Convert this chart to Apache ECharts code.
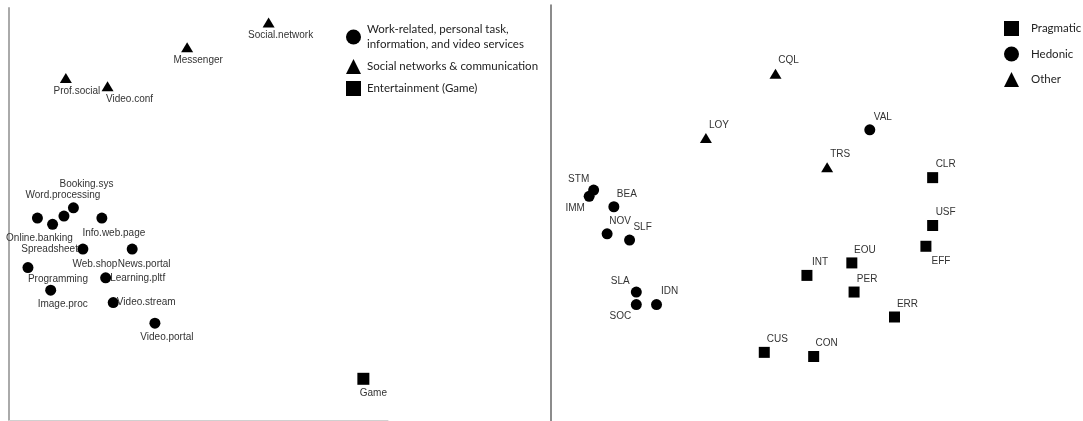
<!DOCTYPE html>
<html>
<head>
<meta charset="utf-8">
<script src="https://cdn.jsdelivr.net/npm/echarts@6/dist/echarts.min.js"></script>
<style>
  html, body { margin: 0; padding: 0; background: #fff; }
  #chart { width: 1083px; height: 421px; }
</style>
</head>
<body>
<div id="chart"></div>
<script>
// left map: online services
const serviceNames = ['Social.network', 'Messenger', 'Prof.social', 'Video.conf', 'Booking.sys',
  'Word.processing', 'Online.banking', 'Spreadsheet', 'Info.web.page', 'Web.shop', 'News.portal',
  'Programming', 'Learning.pltf', 'Image.proc', 'Video.stream', 'Video.portal', 'Game'];
const serviceDim1 = [0.37, -0.06, -0.70, -0.48, -0.66, -0.71, -0.85, -0.77, -0.51, -0.61, -0.35,
  -0.90, -0.49, -0.78, -0.45, -0.23, 0.87];
const serviceDim2 = [0.93, 0.81, 0.66, 0.62, 0.03, -0.01, -0.02, -0.05, -0.02, -0.17, -0.17,
  -0.26, -0.31, -0.37, -0.43, -0.53, -0.80];
const serviceGroup = [1, 1, 1, 1, 0, 0, 0, 0, 0, 0, 0, 0, 0, 0, 0, 0, 2];
const serviceGroupNames = ['Work-related, personal task,\ninformation, and video services',
  'Social networks & communication', 'Entertainment (Game)'];

// right map: UX aspects
const aspectNames = ['CQL', 'LOY', 'TRS', 'VAL', 'STM', 'IMM', 'BEA', 'NOV', 'SLF', 'SLA', 'SOC',
  'IDN', 'INT', 'EOU', 'PER', 'ERR', 'CUS', 'CON', 'CLR', 'USF', 'EFF'];
const aspectDim1 = [0.00, -0.31, 0.23, 0.42, -0.81, -0.83, -0.72, -0.75, -0.65, -0.62, -0.62,
  -0.53, 0.14, 0.34, 0.35, 0.53, -0.05, 0.17, 0.70, 0.70, 0.67];
const aspectDim2 = [0.67, 0.36, 0.22, 0.40, 0.11, 0.08, 0.03, -0.10, -0.13, -0.38, -0.44,
  -0.44, -0.30, -0.24, -0.38, -0.50, -0.67, -0.69, 0.17, -0.06, -0.16];
const aspectGroup = [2, 2, 2, 1, 1, 1, 1, 1, 1, 1, 1, 1, 0, 0, 0, 0, 0, 0, 0, 0, 0];
const aspectGroupNames = ['Pragmatic', 'Hedonic', 'Other'];

// label nudges (px) so the names don't sit on each other
const serviceLabelShift = [[12, 13], [11, 13], [11, 13], [22, 13], [13, -24], [-1, -21], [2, 20],
  [-3, 25], [12, 15], [12, 15], [12, 15], [30, 12], [32, 0], [12, 14], [33, 0], [12, 14], [10, 14]];
const aspectLabelShift = {STM: [-15, -11], IMM: [-14, 12], SLA: [-16, -11], SOC: [-16, 12], EFF: [15, 15]};

const labelFont = {fontFamily: 'Liberation Sans', fontSize: 10, color: '#333'};

function hiddenAxis(gridIndex) {
  return {
    type: 'value', gridIndex: gridIndex, min: -1, max: 1,
    axisLine: {show: false}, axisTick: {show: false}, axisLabel: {show: false}, splitLine: {show: false}
  };
}

function buildSeries(names, d1, d2, groups, groupNames, symbols, sizes, shiftFor, axisIndex) {
  return groupNames.map(function (gName, g) {
    const data = [];
    names.forEach(function (n, i) {
      if (groups[i] !== g) return;
      data.push({
        name: n,
        value: [d1[i], d2[i]],
        label: {offset: shiftFor(n, i)}
      });
    });
    return {
      type: 'scatter',
      name: gName,
      xAxisIndex: axisIndex,
      yAxisIndex: axisIndex,
      symbol: symbols[g],
      symbolSize: sizes[g],
      itemStyle: {color: '#000', opacity: 1},
      label: Object.assign({
        show: true, position: 'inside', align: 'center', verticalAlign: 'middle',
        formatter: '{b}'
      }, labelFont),
      emphasis: {disabled: true},
      data: data
    };
  });
}

const leftSeries = buildSeries(serviceNames, serviceDim1, serviceDim2, serviceGroup, serviceGroupNames,
  ['circle', 'triangle', 'rect'], [11, [12, 10], 12],
  function (n, i) { return serviceLabelShift[i]; }, 0);
const rightSeries = buildSeries(aspectNames, aspectDim1, aspectDim2, aspectGroup, aspectGroupNames,
  ['rect', 'circle', 'triangle'], [11, 11, [12, 10]],
  function (n) { return aspectLabelShift[n] || [13, -13]; }, 1);

const chart = echarts.init(document.getElementById('chart'));
chart.setOption({
  animation: false,
  backgroundColor: '#fff',
  grid: [
    {left: 9, top: 8, width: 379, height: 412},
    {left: 551, top: 5, width: 449, height: 416}
  ],
  xAxis: [
    Object.assign(hiddenAxis(0), {
      axisLine: {show: true, onZero: false, lineStyle: {color: '#d0d0d0', width: 1}}
    }),
    hiddenAxis(1)
  ],
  yAxis: [
    Object.assign(hiddenAxis(0), {
      axisLine: {show: true, onZero: false, lineStyle: {color: '#aaaaaa', width: 2}}
    }),
    Object.assign(hiddenAxis(1), {
      axisLine: {show: true, onZero: false, lineStyle: {color: '#666666', width: 1.5}}
    })
  ],
  legend: [
    {
      data: serviceGroupNames,
      orient: 'vertical',
      left: 346,
      top: 22,
      padding: 0,
      itemWidth: 15,
      itemHeight: 15,
      itemGap: 7,
      selectedMode: false,
      itemStyle: {opacity: 1},
      textStyle: {fontFamily: 'Lato', fontSize: 11.5, color: '#222', lineHeight: 15, padding: [0, 0, 0, 1]}
    },
    {
      data: aspectGroupNames,
      orient: 'vertical',
      left: 1004,
      top: 21,
      padding: 0,
      itemWidth: 15,
      itemHeight: 15,
      itemGap: 10.5,
      selectedMode: false,
      itemStyle: {opacity: 1},
      textStyle: {fontFamily: 'Lato', fontSize: 11.5, color: '#222', padding: [0, 0, 0, 7]}
    }
  ],
  series: leftSeries.concat(rightSeries)
});
</script>
</body>
</html>
